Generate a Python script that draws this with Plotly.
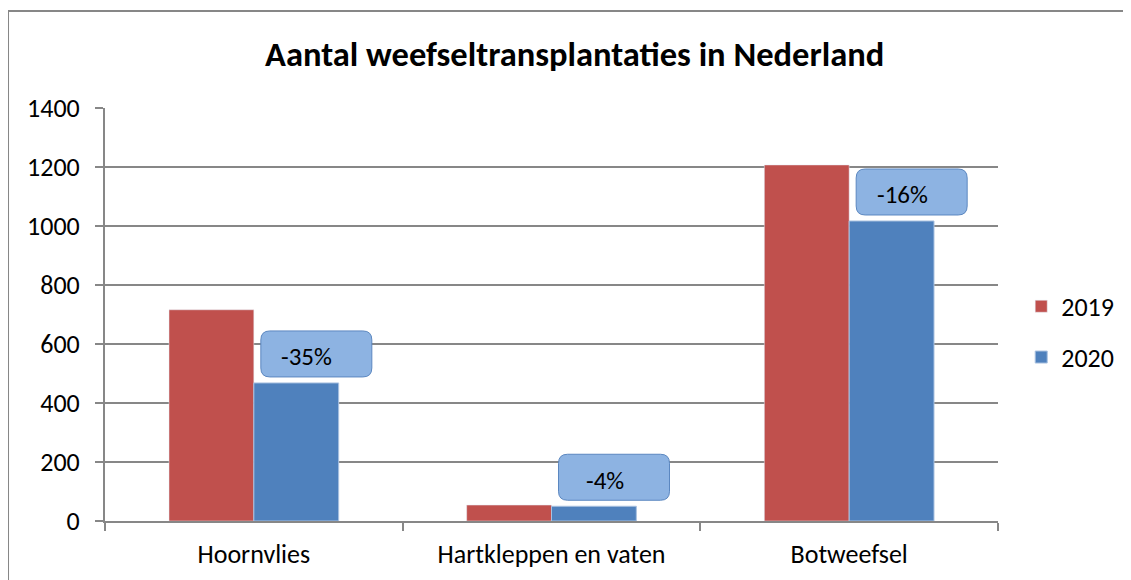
import plotly.graph_objects as go

# data
categories = ["Hoornvlies", "Hartkleppen en vaten", "Botweefsel"]
values_2019 = [716, 54, 1207]
values_2020 = [468, 50, 1017]
change_labels = ["-35%", "-4%", "-16%"]

red = "#C0504D"
blue = "#4F81BD"
grid = "#878787"
font = "Carlito, Lato, sans-serif"

fig = go.Figure()
fig.add_trace(go.Bar(x=categories, y=values_2019, name="2019", marker_color=red,
                     legendgroup="a"))
fig.add_trace(go.Bar(x=categories, y=values_2020, name="2020", marker_color=blue,
                     marker_line=dict(color="#a9c1e0", width=1), legendgroup="b"))

# rounded label boxes above the 2020 bars (pixel sized, anchored to the bar top)
w, h, r = 111, 46, 9
x0, y0 = 7, 6
x1, y1 = x0 + w, y0 + h
box = (f"M{x0+r},{y0} L{x1-r},{y0} Q{x1},{y0} {x1},{y0+r} L{x1},{y1-r} "
       f"Q{x1},{y1} {x1-r},{y1} L{x0+r},{y1} Q{x0},{y1} {x0},{y1-r} "
       f"L{x0},{y0+r} Q{x0},{y0} {x0+r},{y0} Z")
for i, (v, lab) in enumerate(zip(values_2020, change_labels)):
    fig.add_shape(type="path", path=box, xref="x", yref="y",
                  xsizemode="pixel", ysizemode="pixel", xanchor=i, yanchor=v,
                  fillcolor="#8DB3E2", line=dict(color="#5B87C0", width=1))
    fig.add_annotation(x=i, y=v, xref="x", yref="y", text=lab, showarrow=False,
                       xshift=53, yshift=26, font=dict(size=25, color="black", family=font))

# outer chart frame
fig.add_shape(type="rect", xref="paper", yref="paper",
              x0=-0.1086, x1=1.16, y0=-0.17, y1=1.2349,
              line=dict(color=grid, width=2), fillcolor="rgba(0,0,0,0)", layer="below")

# the page body has an 8px margin, so the margins are shifted to compensate
fig.update_layout(
    width=1131, height=580,
    margin=dict(l=97, r=141, t=100, b=67),
    paper_bgcolor="white", plot_bgcolor="white",
    title=dict(text="<b>Aantal weefseltransplantaties in Nederland</b>",
               x=0.501, xanchor="center", y=0.921, yanchor="middle",
               font=dict(size=34.5, color="black", family=font)),
    font=dict(family=font, size=26, color="black"),
    barmode="group", bargap=0.43, bargroupgap=0,
    legend=dict(x=1.026, xanchor="left", y=0.458, yanchor="middle",
                font=dict(size=26), tracegroupgap=14, traceorder="grouped"),
    showlegend=True,
)
fig.update_yaxes(range=[0, 1400], dtick=200, showgrid=True, gridcolor=grid, gridwidth=1.5,
                 showline=True, linecolor=grid, linewidth=2, ticks="outside",
                 ticklen=8, tickcolor=grid, tickwidth=2, zeroline=False,
                 ticklabelstandoff=10, tickfont=dict(size=26))
fig.update_xaxes(showline=True, linecolor=grid, linewidth=2, ticks="outside",
                 tickson="boundaries", ticklen=8, tickcolor=grid, tickwidth=2,
                 ticklabelstandoff=9, tickfont=dict(size=26))

fig.write_html("out.html")
